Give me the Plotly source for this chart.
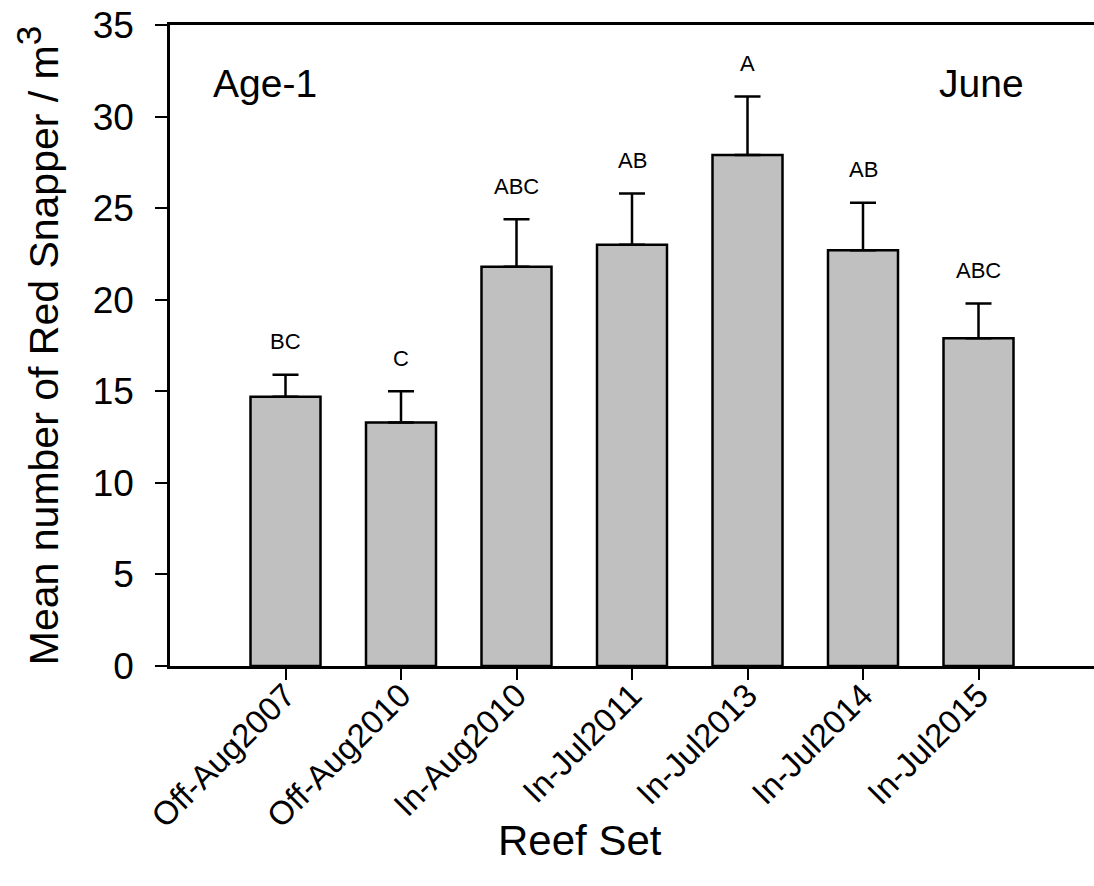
import plotly.graph_objects as go

categories = ["Off-Aug2007", "Off-Aug2010", "In-Aug2010", "In-Jul2011",
              "In-Jul2013", "In-Jul2014", "In-Jul2015"]
means = [14.7, 13.3, 21.8, 23.0, 27.9, 22.7, 17.9]
upper = [15.9, 15.0, 24.4, 25.8, 31.1, 25.3, 19.8]
letters = ["BC", "C", "ABC", "AB", "A", "AB", "ABC"]
y_ticks = [0, 5, 10, 15, 20, 25, 30, 35]

FONT = "Arial, 'Liberation Sans', sans-serif"
W, H = 1094, 886
L, R, T, B = 170, 0, 25, 220

err_plus = [u - m for u, m in zip(upper, means)]
x_idx = list(range(len(categories)))

fig = go.Figure()
fig.add_trace(go.Bar(
    x=x_idx, y=means, width=0.606,
    marker=dict(color="#c0c0c0", line=dict(color="black", width=2.5)),
    error_y=dict(type="data", symmetric=False, array=err_plus,
                 arrayminus=[0] * len(means), color="black",
                 thickness=2.5, width=13),
    showlegend=False, hoverinfo="skip",
))

for i, (u, lab) in enumerate(zip(upper, letters)):
    fig.add_annotation(x=i, y=u, text=lab, showarrow=False, yshift=33,
                       yanchor="middle", xanchor="center",
                       font=dict(family=FONT, size=22, color="black"))

plot_w = W - L - R
plot_h = H - T - B


def px_x(p):
    return (p - L) / plot_w


def px_y(p):
    return 1 - (p - T) / plot_h


fig.add_annotation(x=px_x(265), y=px_y(83), xref="paper", yref="paper",
                   text="Age-1", showarrow=False, xanchor="center",
                   yanchor="middle", font=dict(family=FONT, size=39, color="black"))
fig.add_annotation(x=px_x(981), y=px_y(83), xref="paper", yref="paper",
                   text="June", showarrow=False, xanchor="center",
                   yanchor="middle", font=dict(family=FONT, size=39, color="black"))
fig.add_annotation(x=px_x(580), y=px_y(840), xref="paper", yref="paper",
                   text="Reef Set", showarrow=False, xanchor="center",
                   yanchor="middle", font=dict(family=FONT, size=42, color="black"))

fig.update_layout(
    width=W, height=H,
    margin=dict(l=L, r=R, t=T, b=B, pad=0),
    paper_bgcolor="white", plot_bgcolor="white",
    xaxis=dict(
        range=[-1, 7], tickmode="array", tickvals=x_idx, ticktext=categories,
        tickangle=-45, ticks="outside", ticklen=11, tickwidth=2,
        tickcolor="black", showline=True, linecolor="black", linewidth=2.5,
        mirror=True, showgrid=False, zeroline=False, ticklabelstandoff=-17,
        tickfont=dict(family=FONT, size=33, color="black"),
    ),
    yaxis=dict(
        range=[0, 35], tickmode="array", tickvals=y_ticks,
        ticks="outside", ticklen=12, tickwidth=2, tickcolor="black",
        showline=True, linecolor="black", linewidth=2.5,
        showgrid=False, zeroline=False, ticklabelstandoff=14,
        tickfont=dict(family=FONT, size=37, color="black"),
        title=dict(text="Mean number of Red Snapper / m<sup><span style='font-size:35px'>3</span></sup>",
                   font=dict(family=FONT, size=41, color="black"),
                   standoff=22),
    ),
)

fig.write_html("out.html", config={"displayModeBar": False},
               post_script="document.body.style.margin='0';document.body.style.overflow='hidden';")
